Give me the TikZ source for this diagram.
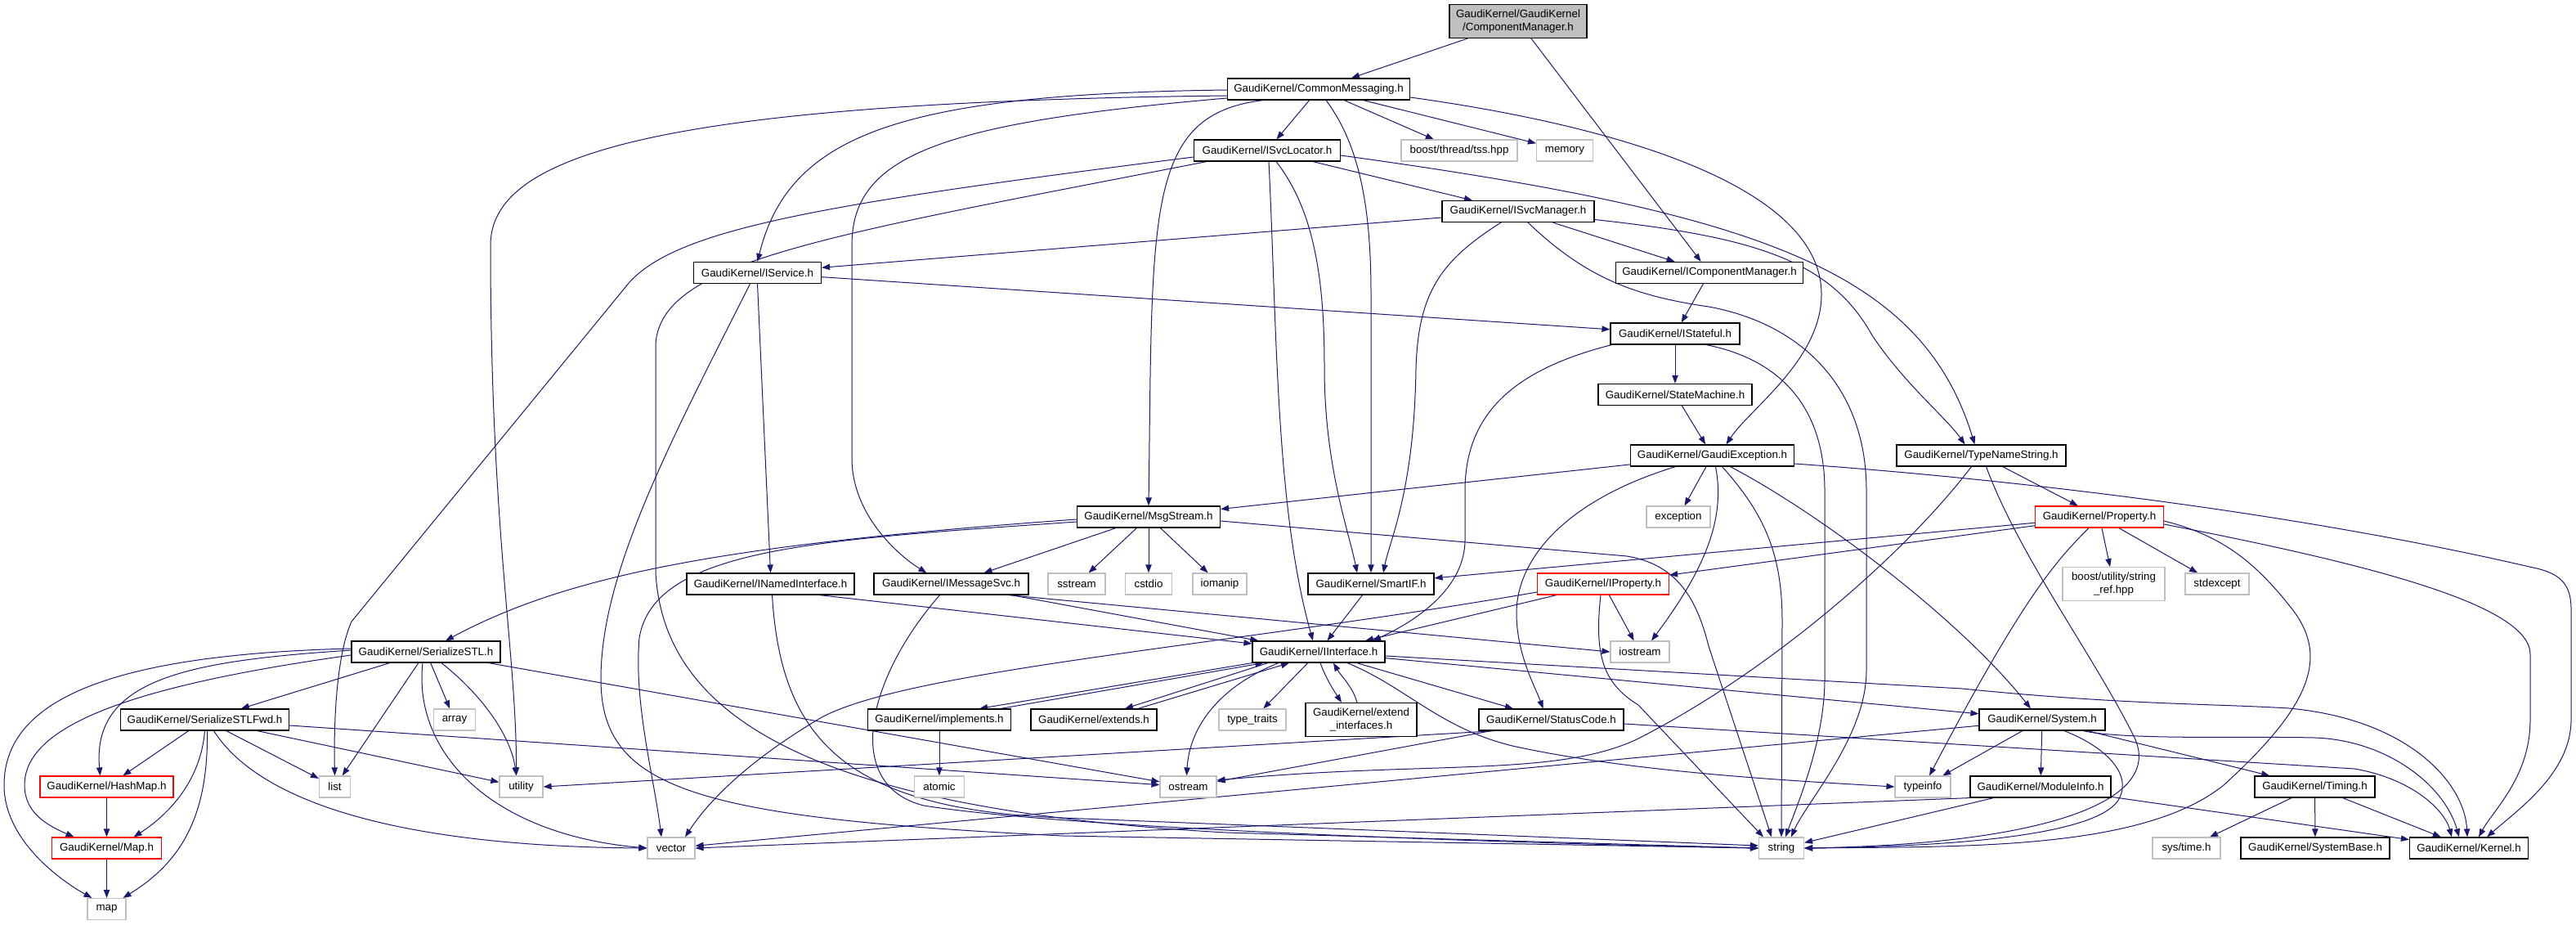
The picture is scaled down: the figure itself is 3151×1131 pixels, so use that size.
\documentclass[tikz,border=0pt]{standalone}
\usepackage{fontspec}
\setmainfont{Liberation Sans}
\usepackage{xcolor}
\usepackage{tikz}
\definecolor{edgeblue}{HTML}{191970}
\definecolor{extgray}{HTML}{BFBFBF}
\usetikzlibrary{arrows.meta, calc, backgrounds}

\begin{document}
\begin{tikzpicture}[
        x=0.75pt, y=-0.75pt,
        hdr/.style={rectangle, draw=black, line width=0.9pt, fill=white,
                    inner xsep=2pt, inner ysep=1pt, minimum height=19.5pt,
                    align=center, font=\fontsize{10}{12}\selectfont},
        exthdr/.style={hdr, draw=extgray},
        redhdr/.style={hdr, draw=red},
        roothdr/.style={hdr, fill=extgray},
        tall/.style={minimum height=30.5pt},
        wd/.style={minimum width={#1*0.75pt}},
        incl/.style={-{Triangle[length=7.5pt,width=5.5pt]}, edgeblue, line width=0.75pt}
    ]
        \path[use as bounding box] (0,0) rectangle (3151,1131);

        \node[roothdr, tall, wd=168] (cm) at (1857,26) {GaudiKernel/GaudiKernel\\/ComponentManager.h};
        \node[hdr, wd=223] (cmsg) at (1613,109) {GaudiKernel/CommonMessaging.h};
        \node[hdr, wd=179] (svcloc) at (1550,184) {GaudiKernel/ISvcLocator.h};
        \node[exthdr, wd=142] (tss) at (1785,184) {boost/thread/tss.hpp};
        \node[exthdr, wd=69] (memory) at (1914,184) {memory};
        \node[hdr, wd=186] (svcmgr) at (1857,258.5) {GaudiKernel/ISvcManager.h};
        \node[hdr, wd=156] (isvc) at (926.5,333.5) {GaudiKernel/IService.h};
        \node[hdr, wd=229] (icm) at (2091,333.5) {GaudiKernel/IComponentManager.h};
        \node[hdr, wd=158] (istate) at (2049,408) {GaudiKernel/IStateful.h};
        \node[hdr, wd=188] (sm) at (2049,482.5) {GaudiKernel/StateMachine.h};
        \node[hdr, wd=200] (gexc) at (2094.5,557) {GaudiKernel/GaudiException.h};
        \node[hdr, wd=207] (tns) at (2423.5,557) {GaudiKernel/TypeNameString.h};
        \node[hdr, wd=175] (msg) at (1405,632) {GaudiKernel/MsgStream.h};
        \node[exthdr, wd=78] (exc) at (2053,632) {exception};
        \node[redhdr, wd=157] (prop) at (2568,632) {GaudiKernel/Property.h};
        \node[hdr, wd=205] (inamed) at (942.5,714) {GaudiKernel/INamedInterface.h};
        \node[hdr, wd=189] (imsg) at (1163.5,714) {GaudiKernel/IMessageSvc.h};
        \node[exthdr, wd=70] (sstream) at (1317,714) {sstream};
        \node[exthdr, wd=57] (cstdio) at (1405,714) {cstdio};
        \node[exthdr, wd=66] (iomanip) at (1492,714) {iomanip};
        \node[hdr, wd=154] (smartif) at (1677,714) {GaudiKernel/SmartIF.h};
        \node[redhdr, wd=161] (iprop) at (1961,714) {GaudiKernel/IProperty.h};
        \node[exthdr, tall, wd=125] (strref) at (2585.5,714) {boost/utility/string\\\_ref.hpp};
        \node[exthdr, wd=78] (stdexcept) at (2712,714) {stdexcept};
        \node[hdr, wd=182] (sstl) at (521,797) {GaudiKernel/SerializeSTL.h};
        \node[hdr, wd=162] (iif) at (1613,797) {GaudiKernel/IInterface.h};
        \node[exthdr, wd=72] (iostream) at (2006,797) {iostream};
        \node[hdr, wd=206] (sstlf) at (250.5,880) {GaudiKernel/SerializeSTLFwd.h};
        \node[exthdr, wd=51] (array) at (556,880) {array};
        \node[hdr, wd=175] (impl) at (1149,880) {GaudiKernel/implements.h};
        \node[hdr, wd=154] (ext) at (1338,880) {GaudiKernel/extends.h};
        \node[exthdr, wd=82] (ttraits) at (1532,880) {type\_traits};
        \node[hdr, tall, wd=136] (extif) at (1665,880) {GaudiKernel/extend\\\_interfaces.h};
        \node[hdr, wd=177] (sc) at (1897.5,880) {GaudiKernel/StatusCode.h};
        \node[hdr, wd=154] (sys) at (2498,880) {GaudiKernel/System.h};
        \node[redhdr, wd=163] (hashmap) at (130.5,962) {GaudiKernel/HashMap.h};
        \node[exthdr, wd=38] (list) at (409.5,962) {list};
        \node[exthdr, wd=53] (utility) at (637.5,962) {utility};
        \node[exthdr, wd=61] (atomic) at (1149,962) {atomic};
        \node[exthdr, wd=69] (ostream) at (1453.5,962) {ostream};
        \node[exthdr, wd=68] (typeinfo) at (2352,962) {typeinfo};
        \node[hdr, wd=172] (modinfo) at (2496,962) {GaudiKernel/ModuleInfo.h};
        \node[hdr, wd=147] (timing) at (2831.5,962) {GaudiKernel/Timing.h};
        \node[redhdr, wd=134] (maph) at (130.5,1037) {GaudiKernel/Map.h};
        \node[exthdr, wd=58] (vector) at (821,1037) {vector};
        \node[exthdr, wd=55] (string) at (2179,1037) {string};
        \node[exthdr, wd=83] (systime) at (2674.5,1037) {sys/time.h};
        \node[hdr, wd=182] (sysbase) at (2832,1037) {GaudiKernel/SystemBase.h};
        \node[hdr, wd=145] (kernel) at (3020,1037) {GaudiKernel/Kernel.h};
        \node[exthdr, wd=47] (map) at (130.5,1111.5) {map};

        \begin{scope}[on background layer]
        \fill[white] (0,0) rectangle (3151,1131);

        \draw[incl] (cm) -- (cmsg);
        \draw[incl] (cm) -- (icm);

        \draw[incl] (cmsg) -- (svcloc);
        \draw[incl] (cmsg) -- (tss);
        \draw[incl] (cmsg) -- (memory);
        \draw[incl] ($(cmsg.west)+(0,1)$) .. controls (1100,115) and (965,165) .. (isvc.north);
        \draw[incl] ($(cmsg.west)+(0,8)$) .. controls (800,125) and (600,190) .. (600,300) .. controls (600,650) and (632,800) .. ($(utility.north)+(-6,0)$);
        \draw[incl] ($(cmsg.west)+(0,11)$) .. controls (1150,150) and (1042,190) .. (1042,300) -- (1042,560) .. controls (1042,630) and (1100,680) .. ($(imsg.north)+(-30,0)$);
        \draw[incl] ($(cmsg.south)+(-68,0)$) .. controls (1400,140) and (1410,260) .. (msg.north);
        \draw[incl] ($(cmsg.south)+(9,0)$) .. controls (1665,180) and (1677,260) .. (1677,360) -- (smartif.north);
        \draw[incl] ($(cmsg.east)+(0,10)$) .. controls (1950,150) and (2228,220) .. (2228,360) .. controls (2228,440) and (2140,500) .. ($(gexc.north)+(17,0)$);

        \draw[incl] ($(svcloc.west)+(0,8)$) .. controls (1000,250) and (830,280) .. (770,345) -- (430,760) .. controls (412,800) and (408,880) .. (list.north);
        \draw[incl] ($(svcloc.south west)+(16,0)$) .. controls (1000,290) and (810,320) .. (802,420) -- (802,700) .. controls (812,880) and (1000,990) .. (1500,1018) -- (string.west);
        \draw[incl] ($(svcloc.south)+(2,0)$) .. controls (1562,400) and (1560,620) .. ($(iif.north)+(-7,0)$);
        \draw[incl] ($(svcloc.south)+(11,0)$) .. controls (1610,260) and (1620,350) .. (1620,450) .. controls (1620,570) and (1650,650) .. ($(smartif.north)+(-17,0)$);
        \draw[incl] (svcloc) -- (svcmgr);
        \draw[incl] ($(svcloc.east)+(0,6)$) .. controls (2150,260) and (2350,330) .. ($(tns.north)+(-8,0)$);

        \draw[incl] (svcmgr) -- (isvc);
        \draw[incl] ($(svcmgr.south)+(-21,0)$) .. controls (1760,320) and (1735,360) .. (1732,450) .. controls (1730,600) and (1700,660) .. ($(smartif.north)+(15,0)$);
        \draw[incl] ($(svcmgr.south)+(12,0)$) .. controls (1940,340) and (2000,362) .. (2090,375) .. controls (2200,395) and (2283,470) .. (2283,600) -- (2283,820) .. controls (2283,900) and (2210,980) .. ($(string.north)+(12,0)$);
        \draw[incl] (svcmgr) -- (icm);
        \draw[incl] ($(svcmgr.east)+(0,10)$) .. controls (2150,290) and (2240,320) .. (2290,410) .. controls (2330,470) and (2380,510) .. ($(tns.north)+(-20,0)$);

        \draw[incl] (isvc) -- (istate);
        \draw[incl] (isvc.south) -- (inamed.north);
        \draw[incl] ($(isvc.south)+(-9,0)$) .. controls (820,540) and (735,700) .. (735,830) .. controls (735,965) and (850,1000) .. (1300,1022) -- (string.west);

        \draw[incl] (icm) -- (istate);

        \draw[incl] (istate) -- (sm);
        \draw[incl] ($(istate.south west)+(2,0)$) .. controls (1860,450) and (1792,500) .. (1792,600) -- (1792,660) .. controls (1792,725) and (1720,765) .. ($(iif.north)+(66,0)$);
        \draw[incl] ($(istate.south)+(38,0)$) .. controls (2180,440) and (2232,500) .. (2232,600) -- (2232,830) .. controls (2232,905) and (2200,980) .. ($(string.north)+(5,0)$);

        \draw[incl] (sm) -- (gexc);

        \draw[incl] (gexc) -- (msg);
        \draw[incl] ($(gexc.south)+(-45,0)$) .. controls (1920,610) and (1855,680) .. (1855,750) .. controls (1855,800) and (1878,840) .. ($(sc.north)+(-10,0)$);
        \draw[incl] (gexc) -- (exc);
        \draw[incl] ($(gexc.south)+(4,0)$) .. controls (2110,630) and (2090,690) .. ($(iostream.north)+(14,0)$);
        \draw[incl] ($(gexc.south)+(12,0)$) .. controls (2160,630) and (2180,680) .. (2180,760) -- (string.north);
        \draw[incl] ($(gexc.south)+(22,0)$) .. controls (2230,630) and (2400,760) .. ($(sys.north)+(-14,0)$);
        \draw[incl] ($(gexc.east)+(0,10)$) .. controls (2450,585) and (2800,625) .. (3094,693) .. controls (3130,700) and (3145,712) .. (3145,745) -- (3145,880) .. controls (3145,945) and (3080,990) .. ($(kernel.north)+(22,0)$);

        \draw[incl] (tns) -- (prop);
        \draw[incl] ($(tns.south)+(6,0)$) .. controls (2470,680) and (2560,800) .. (2610,900) .. controls (2650,980) and (2500,1032) .. (string.east);
        \draw[incl] ($(tns.south)+(-12,0)$) .. controls (2320,690) and (2150,830) .. (2000,905) .. controls (1900,950) and (1750,930) .. ($(ostream.east)+(0,-8)$);

        \draw[incl] ($(msg.west)+(0,3)$) .. controls (900,665) and (700,700) .. ($(sstl.north)+(24,0)$);
        \draw[incl] (msg) -- (imsg);
        \draw[incl] (msg) -- (sstream);
        \draw[incl] (msg) -- (cstdio);
        \draw[incl] (msg) -- (iomanip);
        \draw[incl] ($(msg.west)+(0,6)$) .. controls (1000,660) and (800,670) .. (782,780) .. controls (775,860) and (800,950) .. ($(vector.north)+(-12,0)$);
        \draw[incl] ($(msg.east)+(0,5)$) -- (1990,680) .. controls (2050,690) and (2075,730) .. (2090,790) -- ($(string.north)+(-12,0)$);

        \draw[incl] (prop) -- (smartif);
        \draw[incl] (prop) -- (iprop);
        \draw[incl] ($(prop.south)+(-13,0)$) .. controls (2510,690) and (2470,740) .. ($(typeinfo.north)+(8,0)$);
        \draw[incl] (prop) -- (strref);
        \draw[incl] (prop) -- (stdexcept);
        \draw[incl] ($(prop.east)+(0,5)$) .. controls (2720,655) and (2760,690) .. (2800,740) .. controls (2850,800) and (2830,860) .. (2720,960) .. controls (2620,1040) and (2400,1035) .. (string.east);
        \draw[incl] ($(prop.east)+(0,9)$) .. controls (2900,690) and (3095,740) .. (3095,800) -- (3095,880) .. controls (3095,950) and (3050,990) .. ($(kernel.north)+(12,0)$);

        \draw[incl] ($(inamed.south)+(60,0)$) -- ($(iif.west)+(0,-10)$);
        \draw[incl] ($(inamed.south)+(2,0)$) .. controls (955,900) and (1030,990) .. (1300,1000) -- ($(string.west)+(0,-3)$);

        \draw[incl] (imsg) -- (iif);
        \draw[incl] ($(imsg.south)+(70,0)$) -- (iostream.west);
        \draw[incl] ($(imsg.south)+(-14,0)$) .. controls (1060,830) and (1030,960) .. (1130,985) .. controls (1300,1012) and (1800,1030) .. (string.west);

        \draw[incl] (smartif) -- (iif);

        \draw[incl] (iprop) -- (iif);
        \draw[incl] (iprop) -- (iostream);
        \draw[incl] ($(iprop.south)+(-3,0)$) .. controls (1950,800) and (1960,835) .. (2004,862) -- ($(string.north)+(-22,0)$);
        \draw[incl] ($(iprop.west)+(0,10)$) .. controls (1500,790) and (1100,820) .. (1000,880) .. controls (900,940) and (860,990) .. ($(vector.north)+(17,0)$);

        \draw[incl] ($(sstl.west)+(0,-4)$) .. controls (150,800) and (5,850) .. (5,960) .. controls (5,1030) and (80,1080) .. ($(map.north)+(-18,0)$);
        \draw[incl] ($(sstl.west)+(0,-2)$) .. controls (230,808) and (112,830) .. ($(hashmap.north)+(-8,0)$);
        \draw[incl] ($(sstl.west)+(0,4)$) .. controls (150,840) and (30,890) .. (30,960) .. controls (30,995) and (60,1010) .. ($(maph.north)+(-40,0)$);
        \draw[incl] (sstl) -- (sstlf);
        \draw[incl] (sstl) -- (list);
        \draw[incl] (sstl) -- (array);
        \draw[incl] ($(sstl.south)+(19,0)$) .. controls (590,850) and (625,900) .. ($(utility.north)+(-6,0)$);
        \draw[incl] ($(sstl.south)+(-4,0)$) .. controls (505,920) and (600,1020) .. (vector.west);
        \draw[incl] (sstl) -- (ostream);

        \draw[incl] (sstlf) -- (hashmap);
        \draw[incl] (sstlf.south) .. controls (245,960) and (200,1000) .. ($(maph.north)+(33,0)$);
        \draw[incl] ($(sstlf.south)+(3,0)$) .. controls (255,1000) and (220,1055) .. ($(map.north)+(20,0)$);
        \draw[incl] ($(sstlf.south)+(11,0)$) .. controls (320,985) and (500,1035) .. (vector.west);
        \draw[incl] (sstlf) -- (list);
        \draw[incl] (sstlf) -- (utility);
        \draw[incl] (sstlf) -- (ostream);

        \draw[incl] (hashmap) -- (maph);
        \draw[incl] (maph) -- (map);

        \draw[incl] (iif.south west) -- ($(impl.north)+(49,0)$);
        \draw[incl] ($(iif.south)+(-62,0)$) -- ($(ext.north)+(38,0)$);
        \draw[incl] ($(iif.south)+(2,0)$) .. controls (1622,830) and (1632,845) .. ($(extif.north)+(-24,0)$);
        \draw[incl] (iif) -- (ttraits);
        \draw[incl] ($(iif.south)+(-49,0)$) .. controls (1490,840) and (1455,890) .. ($(ostream.north)+(-2,0)$);
        \draw[incl] (iif) -- (sc);
        \draw[incl] ($(iif.south)+(35,0)$) .. controls (1720,840) and (1760,890) .. (1850,912) .. controls (2000,945) and (2200,955) .. (typeinfo.west);
        \draw[incl] (iif) -- (sys);
        \draw[incl] ($(iif.east)+(0,5)$) -- (2400,842) .. controls (2600,862) and (2700,860) .. (2800,866) .. controls (2950,880) and (3015,960) .. ($(kernel.north)+(-2,0)$);

        \draw[incl] ($(impl.north)+(75,0)$) -- ($(iif.south west)+(14,0)$);
        \draw[incl] (impl) -- (atomic);

        \draw[incl] ($(ext.north)+(54,0)$) -- ($(iif.south)+(-36,0)$);

        \draw[incl] ($(extif.north)+(-5,0)$) .. controls (1655,840) and (1640,826) .. ($(iif.south)+(18,0)$);

        \draw[incl] (sc) -- (ostream);
        \draw[incl] ($(sc.south west)+(20,0)$) -- (utility.east);
        \draw[incl] ($(sc.east)+(0,5)$) -- (2880,940) .. controls (2950,952) and (2990,990) .. ($(kernel.north)+(-21,0)$);

        \draw[incl] (sys) -- (typeinfo);
        \draw[incl] (sys) -- (modinfo);
        \draw[incl] ($(sys.south)+(27,0)$) .. controls (2580,915) and (2610,950) .. (2590,980) .. controls (2560,1020) and (2400,1035) .. (string.east);
        \draw[incl] (sys) -- (timing);
        \draw[incl] ($(sys.south)+(50,0)$) .. controls (2600,905) and (2750,900) .. (2831,902) .. controls (2920,905) and (2990,960) .. ($(kernel.north)+(-12,0)$);
        \draw[incl] (sys) -- (vector);

        \draw[incl] (modinfo.south west) -- (vector.east);
        \draw[incl] (modinfo) -- (string);
        \draw[incl] (modinfo) -- (kernel);

        \draw[incl] (timing) -- (systime);
        \draw[incl] (timing) -- (sysbase);
        \draw[incl] (timing) -- (kernel);
        \end{scope}
    \end{tikzpicture}
\end{document}
